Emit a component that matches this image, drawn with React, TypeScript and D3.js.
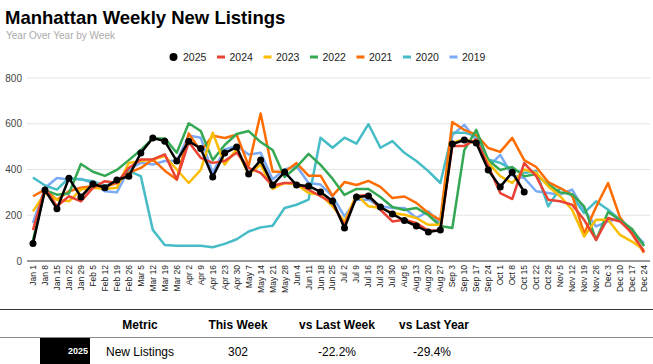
import React from 'react';
import * as d3 from 'd3';

// week labels (x axis)
const weeks = [
  'Jan 1', 'Jan 8', 'Jan 15', 'Jan 22', 'Jan 29',
  'Feb 5', 'Feb 12', 'Feb 19', 'Feb 26',
  'Mar 5', 'Mar 12', 'Mar 19', 'Mar 26',
  'Apr 2', 'Apr 9', 'Apr 16', 'Apr 23', 'Apr 30',
  'May 7', 'May 14', 'May 21', 'May 28',
  'Jun 4', 'Jun 11', 'Jun 18', 'Jun 25',
  'Jul 2', 'Jul 9', 'Jul 16', 'Jul 23', 'Jul 30',
  'Aug 6', 'Aug 13', 'Aug 20', 'Aug 27',
  'Sep 3', 'Sep 10', 'Sep 17', 'Sep 24',
  'Oct 1', 'Oct 8', 'Oct 15', 'Oct 22', 'Oct 29',
  'Nov 5', 'Nov 12', 'Nov 19', 'Nov 26',
  'Dec 3', 'Dec 10', 'Dec 17', 'Dec 24',
];

const y2025 = [
  76, 310, 228, 362, 280, 337, 320, 354, 371, 472, 538, 524, 437,
  524, 492, 367, 472, 498, 380, 441, 332, 389, 332, 328, 302, 262,
  144, 280, 284, 236, 205, 177, 153, 127, 135, 511, 529, 516, 398,
  324, 388, 302,
];
const y2024 = [
  135, 320, 239, 283, 261, 320, 349, 341, 407, 444, 444, 466, 356,
  520, 451, 429, 437, 473, 407, 385, 330, 341, 341, 312, 283, 254,
  155, 283, 290, 224, 173, 180, 166, 133, 133, 503, 503, 532, 415,
  297, 271, 428, 371, 268, 261, 246, 180, 92, 188, 173, 122, 41,
];
const y2023 = [
  217, 297, 268, 261, 312, 320, 315, 320, 429, 437, 444, 459, 400,
  341, 398, 561, 422, 488, 378, 422, 315, 341, 334, 297, 290, 239,
  173, 290, 239, 232, 210, 202, 188, 158, 158, 517, 532, 517, 429,
  371, 341, 400, 385, 327, 283, 224, 107, 180, 180, 114, 85, 48,
];
const y2022 = [
  90, 310, 290, 295, 424, 390, 372, 398, 441, 485, 536, 536, 473,
  602, 568, 441, 507, 555, 568, 520, 485, 367, 411, 468, 420, 360,
  289, 315, 315, 280, 236, 223, 232, 201, 153, 144, 485, 573, 441,
  398, 411, 370, 380, 334, 300, 292, 239, 92, 214, 179, 140, 66,
];
const y2021 = [
  283, 312, 268, 305, 320, 327, 324, 341, 385, 407, 444, 395, 356,
  558, 480, 548, 538, 552, 416, 645, 391, 389, 428, 373, 373, 285,
  345, 332, 350, 324, 275, 282, 254, 210, 179, 608, 573, 551, 494,
  477, 538, 441, 411, 345, 319, 289, 120, 236, 341, 190, 118, 36,
];
const y2020 = [
  365, 330, 312, 363, 356, 349, 327, 349, 393, 371, 136, 70, 67,
  67, 67, 60, 75, 95, 129, 147, 154, 232, 246, 268, 539, 495,
  539, 513, 598, 495, 524, 473, 437, 393, 341, 561, 561, 546, 444,
  429, 400, 385, 393, 239, 319, 283, 210, 261, 224, 180, 129, 70,
];
const y2019 = [
  166, 319, 363, 356, 359, 341, 305, 300, 400, 429, 422, 437, 437,
  549, 539, 385, 488, 503, 466, 473, 356, 400, 415, 341, 334, 283,
  195, 268, 268, 239, 232, 232, 188, 217, 166, 551, 595, 529, 411,
  464, 374, 363, 305, 297, 290, 312, 224, 151, 173, 188, 129, 78,
];

const yTicks = [0, 200, 400, 600, 800];

const tableHeader = ['Metric', 'This Week', 'vs Last Week', 'vs Last Year'];
const tableRow = ['New Listings', '302', '-22.2%', '-29.4%'];

const series = [
  { name: '2025', color: '#000000', values: y2025 },
  { name: '2024', color: '#ea4335', values: y2024 },
  { name: '2023', color: '#fbbc04', values: y2023 },
  { name: '2022', color: '#34a853', values: y2022 },
  { name: '2021', color: '#ff6d01', values: y2021 },
  { name: '2020', color: '#46bdc6', values: y2020 },
  { name: '2019', color: '#7baaf7', values: y2019 },
];

const W = 653;
const H = 364;
const font = '"Liberation Sans", Arial, Helvetica, sans-serif';
const narrow = '"Liberation Sans Narrow", "Arial Narrow", "Liberation Sans", Arial, sans-serif';

export default function App() {
  const x = d3.scaleBand<string>().domain(weeks).range([27, 650]);
  const y = d3.scaleLinear().domain([0, 800]).range([261, 78]);
  const cx = (i: number) => (x(weeks[i]) as number) + x.bandwidth() / 2;

  const line = d3
    .line<number>()
    .x((_, i) => cx(i))
    .y((d) => y(d));

  // table columns
  const colX = [140, 238, 337, 434];

  return (
    <svg
      width={W}
      height={H}
      style={{ position: 'absolute', left: 0, top: 0, background: '#fff' }}
    >
      <text x={5} y={24} fontFamily={font} fontWeight="bold" fontSize={18.5} fill="#000">
        Manhattan Weekly New Listings
      </text>
      <text x={6} y={39} fontFamily={font} fontSize={10} fill="#aaaaaa">
        Year Over Year by Week
      </text>

      {/* legend */}
      {series.map((s, k) => {
        const base = 170.5 + k * 46.5;
        return (
          <g key={s.name}>
            {k === 0 ? (
              <circle cx={base + 3} cy={57} r={4} fill={s.color} />
            ) : (
              <rect x={base} y={55.5} width={8} height={3} fill={s.color} />
            )}
            <text x={base + 12.5} y={61} fontFamily={font} fontSize={10.5} fill="#222">
              {s.name}
            </text>
          </g>
        );
      })}

      {/* grid */}
      {yTicks.map((t) => (
        <g key={t}>
          {t > 0 && (
            <line x1={27} x2={650} y1={y(t)} y2={y(t)} stroke="#e3e3e3" strokeWidth={1} />
          )}
          <text
            x={22}
            y={y(t)}
            dy="0.35em"
            textAnchor="end"
            fontFamily={font}
            fontSize={10}
            fill="#444"
          >
            {t}
          </text>
        </g>
      ))}

      {/* lines: drawn last series first so 2025 sits on top */}
      {series
        .slice()
        .reverse()
        .map((s) => (
          <path
            key={s.name}
            d={line(s.values) || ''}
            fill="none"
            stroke={s.color}
            strokeWidth={2.5}
            strokeLinejoin="round"
          />
        ))}
      {y2025.map((v, i) => (
        <circle key={i} cx={cx(i)} cy={y(v)} r={3.5} fill="#000" />
      ))}

      {/* x axis */}
      <line x1={27} x2={650} y1={y(0)} y2={y(0)} stroke="#333" strokeWidth={1} />
      {weeks.map((w, i) => (
        <text
          key={w}
          transform={`translate(${cx(i)},265) rotate(-90)`}
          dy="0.35em"
          textAnchor="end"
          fontFamily={narrow}
          fontSize={8.5}
          fill="#222"
        >
          {w}
        </text>
      ))}

      {/* table */}
      <line x1={0} x2={W} y1={309.5} y2={309.5} stroke="#333" strokeWidth={1} />
      {tableHeader.map((h, i) => (
        <text
          key={h}
          x={colX[i]}
          y={329}
          textAnchor="middle"
          fontFamily={narrow}
          fontWeight="bold"
          fontSize={12}
          fill="#000"
        >
          {h}
        </text>
      ))}
      <line x1={0} x2={W} y1={337.5} y2={337.5} stroke="#888" strokeWidth={1} />
      <rect x={40} y={338} width={50} height={26} fill="#000" />
      <text
        x={88}
        y={354}
        textAnchor="end"
        fontFamily={narrow}
        fontWeight="bold"
        fontSize={9}
        fill="#fff"
      >
        2025
      </text>
      {tableRow.map((c, i) => (
        <text
          key={i}
          x={i === 3 ? 432 : colX[i]}
          y={356}
          textAnchor="middle"
          fontFamily={narrow}
          fontSize={12}
          fill="#000"
        >
          {c}
        </text>
      ))}
    </svg>
  );
}
